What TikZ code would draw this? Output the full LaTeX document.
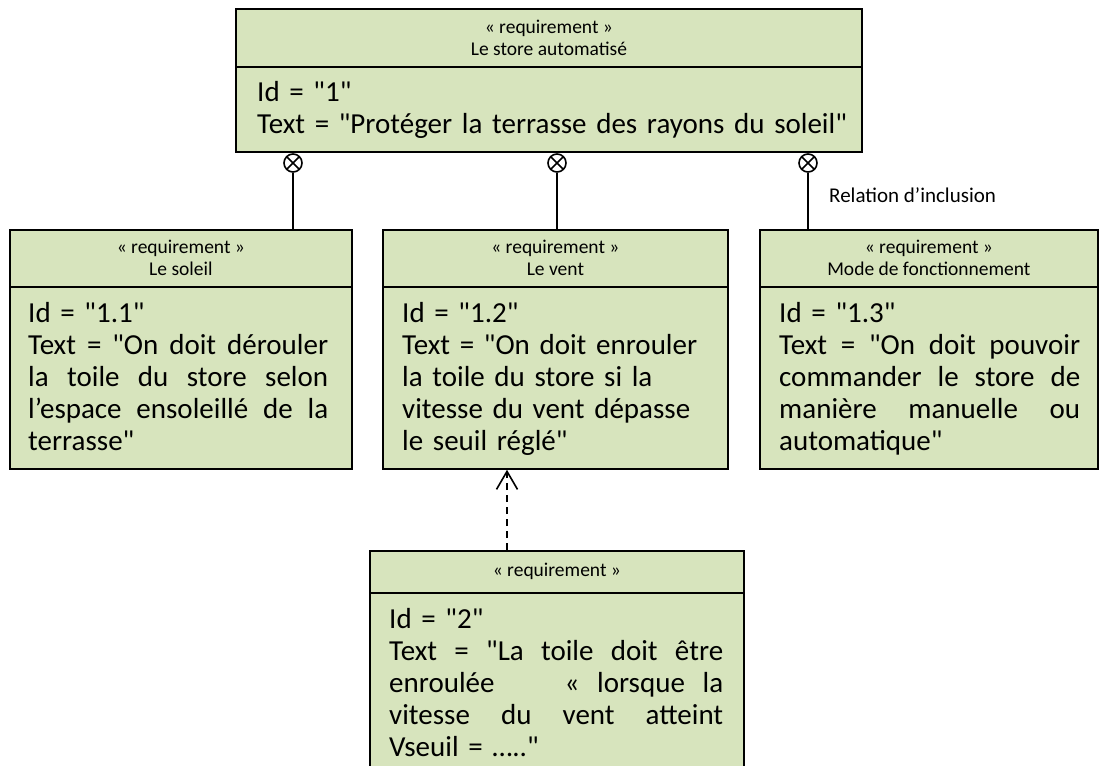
\documentclass[tikz,border=0pt]{standalone}
\usepackage{fontspec}
\setmainfont{Carlito}[Ligatures=TeXOff]
\usetikzlibrary{arrows.meta}
\definecolor{reqfill}{HTML}{D7E4BD}
\tikzset{
  x=1pt, y=-1pt,
  reqbox/.style={draw=black, line width=1.8pt, fill=reqfill, inner sep=0pt, anchor=north west},
  rule/.style={line width=1.8pt},
  hdr/.style={font=\fontsize{19.5}{22}\selectfont, align=center, inner sep=0pt},
  body/.style={font=\fontsize{29}{32}\selectfont, anchor=base west, inner sep=0pt,
               text width=#1, align=left},
  lbl/.style={font=\fontsize{21}{24}\selectfont, inner sep=0pt},
  link/.style={line width=1.6pt},
  incl/.style={circle, draw, line width=1.6pt, minimum size=18pt, inner sep=0pt,
    path picture={\draw[line width=1.6pt]
      (path picture bounding box.north west) -- (path picture bounding box.south east)
      (path picture bounding box.north east) -- (path picture bounding box.south west);}},
  derive/.style={line width=1.6pt, dash pattern=on 7pt off 5pt,
    -{Straight Barb[length=18pt, width=21pt, line width=1.6pt]}}
}
% a line stretched to the full given width (stretchable word spaces)
\newcommand{\fullline}[2]{\makebox[#1][s]{\spaceskip=.3333em plus 1fil\relax
  \xspaceskip=\spaceskip #2}}
\begin{document}
\begin{tikzpicture}
\useasboundingbox (0,0) rectangle (1099,765);

% top requirement
\node[reqbox, minimum width=626pt, minimum height=143pt] (store) at (235,8) {};
\draw[rule] ([yshift=-59pt]store.north west) -- ([yshift=-59pt]store.north east);
\node[hdr] (storeH) at ([yshift=-29.5pt]store.north) {« requirement »\\Le store automatisé};
\node[body=600pt] (storeT) at (257,102) {Id = "1"\\Text = "Protéger la terrasse des rayons du soleil"};

% sub-requirements
\node[reqbox, minimum width=342pt, minimum height=239pt] (soleil) at (9,229) {};
\draw[rule] ([yshift=-58pt]soleil.north west) -- ([yshift=-58pt]soleil.north east);
\node[hdr] (soleilH) at ([yshift=-29pt]soleil.north) {« requirement »\\Le soleil};
\node[body=300pt] (soleilT) at (28,322) {Id = "1.1"\\
  \fullline{300pt}{Text = "On doit dérouler}\\
  \fullline{300pt}{la toile du store selon}\\
  \fullline{300pt}{l’espace ensoleillé de la}\\
  terrasse"};

\node[reqbox, minimum width=345pt, minimum height=239pt] (vent) at (382,229) {};
\draw[rule] ([yshift=-58pt]vent.north west) -- ([yshift=-58pt]vent.north east);
\node[hdr] (ventH) at ([yshift=-29pt]vent.north) {« requirement »\\Le vent};
\node[body=305pt] (ventT) at (402,322) {Id = "1.2"\\
  Text = "On doit enrouler\\
  la toile du store si la\\
  vitesse du vent dépasse\\
  le seuil réglé"};

\node[reqbox, minimum width=338pt, minimum height=239pt] (mode) at (759,229) {};
\draw[rule] ([yshift=-58pt]mode.north west) -- ([yshift=-58pt]mode.north east);
\node[hdr] (modeH) at ([yshift=-29pt]mode.north) {« requirement »\\Mode de fonctionnement};
\node[body=301pt] (modeT) at (779,322) {Id = "1.3"\\
  \fullline{301pt}{Text = "On doit pouvoir}\\
  \fullline{301pt}{commander le store de}\\
  \fullline{301pt}{manière manuelle ou}\\
  automatique"};

% derived requirement
\node[reqbox, minimum width=374pt, minimum height=230pt] (seuil) at (369,550) {};
\draw[rule] ([yshift=-43pt]seuil.north west) -- ([yshift=-43pt]seuil.north east);
\node[hdr] (seuilH) at ([yshift=-21.5pt]seuil.north) {« requirement »};
\node[body=334pt] (seuilT) at (389,628) {Id = "2"\\
  \fullline{334pt}{Text = "La toile doit être}\\
  \fullline{334pt}{enroulée \hspace{1.2em} « lorsque la}\\
  \fullline{334pt}{vitesse du vent atteint}\\
  Vseuil = ….."};

% containment links
\node[incl] (c1) at (293,163) {};
\node[incl] (c2) at (557,163) {};
\node[incl] (c3) at (808,163) {};
\draw[link] (c1.south) -- (c1.south |- soleil.north);
\draw[link] (c2.south) -- (c2.south |- vent.north);
\draw[link] (c3.south) -- (c3.south |- mode.north);
\node[lbl, anchor=base west] (inclLbl) at (829,202) {Relation d’inclusion};

% derive link
\coordinate (dtail) at ([xshift=138pt]seuil.north west);
\draw[derive] (dtail) -- (dtail |- vent.south);
\end{tikzpicture}
\end{document}
